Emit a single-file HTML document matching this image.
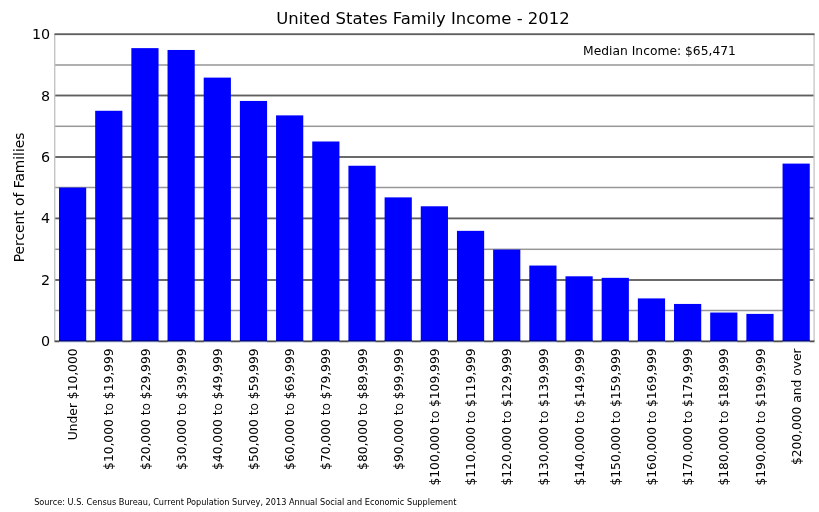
<!DOCTYPE html><html><head><meta charset="utf-8"><style>html,body{margin:0;padding:0;background:#fff;}svg{display:block;will-change:transform;}text{font-family:"DejaVu Sans","Liberation Sans",sans-serif;fill:#000;}</style></head><body>
<svg width="819" height="512" viewBox="0 0 819 512">
<rect width="819" height="512" fill="#fff"/>
<rect x="54.5" y="309.750" width="759.75" height="1.5" fill="#979797"/>
<rect x="54.5" y="279.075" width="759.75" height="1.85" fill="#5f5f5f"/>
<rect x="54.5" y="248.550" width="759.75" height="1.5" fill="#979797"/>
<rect x="54.5" y="217.475" width="759.75" height="1.85" fill="#5f5f5f"/>
<rect x="54.5" y="186.750" width="759.75" height="1.5" fill="#979797"/>
<rect x="54.5" y="156.075" width="759.75" height="1.85" fill="#5f5f5f"/>
<rect x="54.5" y="125.550" width="759.75" height="1.5" fill="#979797"/>
<rect x="54.5" y="94.575" width="759.75" height="1.85" fill="#5f5f5f"/>
<rect x="54.5" y="64.250" width="759.75" height="1.5" fill="#979797"/>
<rect x="54.0" y="34.0" width="1.4" height="307.10" fill="#c4c4c4"/>
<rect x="813.4" y="34.0" width="1.4" height="307.10" fill="#cacaca"/>
<rect x="58.99" y="187.55" width="27.2" height="153.70" fill="#00f"/>
<rect x="95.17" y="110.78" width="27.2" height="230.47" fill="#00f"/>
<rect x="131.35" y="48.13" width="27.2" height="293.12" fill="#00f"/>
<rect x="167.53" y="49.97" width="27.2" height="291.28" fill="#00f"/>
<rect x="203.70" y="77.61" width="27.2" height="263.64" fill="#00f"/>
<rect x="239.88" y="100.95" width="27.2" height="240.30" fill="#00f"/>
<rect x="276.06" y="115.38" width="27.2" height="225.87" fill="#00f"/>
<rect x="312.24" y="141.49" width="27.2" height="199.76" fill="#00f"/>
<rect x="348.42" y="165.75" width="27.2" height="175.50" fill="#00f"/>
<rect x="384.60" y="197.38" width="27.2" height="143.87" fill="#00f"/>
<rect x="420.77" y="206.28" width="27.2" height="134.97" fill="#00f"/>
<rect x="456.95" y="230.85" width="27.2" height="110.40" fill="#00f"/>
<rect x="493.13" y="249.58" width="27.2" height="91.67" fill="#00f"/>
<rect x="529.31" y="265.55" width="27.2" height="75.70" fill="#00f"/>
<rect x="565.49" y="276.30" width="27.2" height="64.95" fill="#00f"/>
<rect x="601.67" y="277.84" width="27.2" height="63.41" fill="#00f"/>
<rect x="637.85" y="298.41" width="27.2" height="42.84" fill="#00f"/>
<rect x="674.02" y="303.94" width="27.2" height="37.31" fill="#00f"/>
<rect x="710.20" y="312.54" width="27.2" height="28.71" fill="#00f"/>
<rect x="746.38" y="313.89" width="27.2" height="27.36" fill="#00f"/>
<rect x="782.56" y="163.60" width="27.2" height="177.65" fill="#00f"/>
<rect x="54.5" y="33.275" width="760.05" height="1.85" fill="#5f5f5f"/>
<rect x="54.5" y="340.425" width="760.05" height="1.85" fill="#505050"/>
<rect x="58.99" y="340" width="27.2" height="1" fill="#00009a"/>
<rect x="58.99" y="341" width="27.2" height="1" fill="#6070a8"/>
<rect x="58.99" y="342" width="27.2" height="1" fill="#e4e8f2"/>
<rect x="95.17" y="340" width="27.2" height="1" fill="#00009a"/>
<rect x="95.17" y="341" width="27.2" height="1" fill="#6070a8"/>
<rect x="95.17" y="342" width="27.2" height="1" fill="#e4e8f2"/>
<rect x="131.35" y="340" width="27.2" height="1" fill="#00009a"/>
<rect x="131.35" y="341" width="27.2" height="1" fill="#6070a8"/>
<rect x="131.35" y="342" width="27.2" height="1" fill="#e4e8f2"/>
<rect x="167.53" y="340" width="27.2" height="1" fill="#00009a"/>
<rect x="167.53" y="341" width="27.2" height="1" fill="#6070a8"/>
<rect x="167.53" y="342" width="27.2" height="1" fill="#e4e8f2"/>
<rect x="203.70" y="340" width="27.2" height="1" fill="#00009a"/>
<rect x="203.70" y="341" width="27.2" height="1" fill="#6070a8"/>
<rect x="203.70" y="342" width="27.2" height="1" fill="#e4e8f2"/>
<rect x="239.88" y="340" width="27.2" height="1" fill="#00009a"/>
<rect x="239.88" y="341" width="27.2" height="1" fill="#6070a8"/>
<rect x="239.88" y="342" width="27.2" height="1" fill="#e4e8f2"/>
<rect x="276.06" y="340" width="27.2" height="1" fill="#00009a"/>
<rect x="276.06" y="341" width="27.2" height="1" fill="#6070a8"/>
<rect x="276.06" y="342" width="27.2" height="1" fill="#e4e8f2"/>
<rect x="312.24" y="340" width="27.2" height="1" fill="#00009a"/>
<rect x="312.24" y="341" width="27.2" height="1" fill="#6070a8"/>
<rect x="312.24" y="342" width="27.2" height="1" fill="#e4e8f2"/>
<rect x="348.42" y="340" width="27.2" height="1" fill="#00009a"/>
<rect x="348.42" y="341" width="27.2" height="1" fill="#6070a8"/>
<rect x="348.42" y="342" width="27.2" height="1" fill="#e4e8f2"/>
<rect x="384.60" y="340" width="27.2" height="1" fill="#00009a"/>
<rect x="384.60" y="341" width="27.2" height="1" fill="#6070a8"/>
<rect x="384.60" y="342" width="27.2" height="1" fill="#e4e8f2"/>
<rect x="420.77" y="340" width="27.2" height="1" fill="#00009a"/>
<rect x="420.77" y="341" width="27.2" height="1" fill="#6070a8"/>
<rect x="420.77" y="342" width="27.2" height="1" fill="#e4e8f2"/>
<rect x="456.95" y="340" width="27.2" height="1" fill="#00009a"/>
<rect x="456.95" y="341" width="27.2" height="1" fill="#6070a8"/>
<rect x="456.95" y="342" width="27.2" height="1" fill="#e4e8f2"/>
<rect x="493.13" y="340" width="27.2" height="1" fill="#00009a"/>
<rect x="493.13" y="341" width="27.2" height="1" fill="#6070a8"/>
<rect x="493.13" y="342" width="27.2" height="1" fill="#e4e8f2"/>
<rect x="529.31" y="340" width="27.2" height="1" fill="#00009a"/>
<rect x="529.31" y="341" width="27.2" height="1" fill="#6070a8"/>
<rect x="529.31" y="342" width="27.2" height="1" fill="#e4e8f2"/>
<rect x="565.49" y="340" width="27.2" height="1" fill="#00009a"/>
<rect x="565.49" y="341" width="27.2" height="1" fill="#6070a8"/>
<rect x="565.49" y="342" width="27.2" height="1" fill="#e4e8f2"/>
<rect x="601.67" y="340" width="27.2" height="1" fill="#00009a"/>
<rect x="601.67" y="341" width="27.2" height="1" fill="#6070a8"/>
<rect x="601.67" y="342" width="27.2" height="1" fill="#e4e8f2"/>
<rect x="637.85" y="340" width="27.2" height="1" fill="#00009a"/>
<rect x="637.85" y="341" width="27.2" height="1" fill="#6070a8"/>
<rect x="637.85" y="342" width="27.2" height="1" fill="#e4e8f2"/>
<rect x="674.02" y="340" width="27.2" height="1" fill="#00009a"/>
<rect x="674.02" y="341" width="27.2" height="1" fill="#6070a8"/>
<rect x="674.02" y="342" width="27.2" height="1" fill="#e4e8f2"/>
<rect x="710.20" y="340" width="27.2" height="1" fill="#00009a"/>
<rect x="710.20" y="341" width="27.2" height="1" fill="#6070a8"/>
<rect x="710.20" y="342" width="27.2" height="1" fill="#e4e8f2"/>
<rect x="746.38" y="340" width="27.2" height="1" fill="#00009a"/>
<rect x="746.38" y="341" width="27.2" height="1" fill="#6070a8"/>
<rect x="746.38" y="342" width="27.2" height="1" fill="#e4e8f2"/>
<rect x="782.56" y="340" width="27.2" height="1" fill="#00009a"/>
<rect x="782.56" y="341" width="27.2" height="1" fill="#6070a8"/>
<rect x="782.56" y="342" width="27.2" height="1" fill="#e4e8f2"/>
<text x="50.2" y="346.20" font-size="14.3" text-anchor="end">0</text>
<text x="50.2" y="284.78" font-size="14.3" text-anchor="end">2</text>
<text x="50.2" y="223.36" font-size="14.3" text-anchor="end">4</text>
<text x="50.2" y="161.94" font-size="14.3" text-anchor="end">6</text>
<text x="50.2" y="100.52" font-size="14.3" text-anchor="end">8</text>
<text x="50.2" y="39.10" font-size="14.3" text-anchor="end">10</text>
<text transform="translate(77.19,348.5) rotate(-90)" font-size="12.25" text-anchor="end">Under $10,000</text>
<text transform="translate(113.37,348.5) rotate(-90)" font-size="12.25" text-anchor="end">$10,000 to $19,999</text>
<text transform="translate(149.55,348.5) rotate(-90)" font-size="12.25" text-anchor="end">$20,000 to $29,999</text>
<text transform="translate(185.72,348.5) rotate(-90)" font-size="12.25" text-anchor="end">$30,000 to $39,999</text>
<text transform="translate(221.90,348.5) rotate(-90)" font-size="12.25" text-anchor="end">$40,000 to $49,999</text>
<text transform="translate(258.08,348.5) rotate(-90)" font-size="12.25" text-anchor="end">$50,000 to $59,999</text>
<text transform="translate(294.26,348.5) rotate(-90)" font-size="12.25" text-anchor="end">$60,000 to $69,999</text>
<text transform="translate(330.44,348.5) rotate(-90)" font-size="12.25" text-anchor="end">$70,000 to $79,999</text>
<text transform="translate(366.62,348.5) rotate(-90)" font-size="12.25" text-anchor="end">$80,000 to $89,999</text>
<text transform="translate(402.80,348.5) rotate(-90)" font-size="12.25" text-anchor="end">$90,000 to $99,999</text>
<text transform="translate(438.98,348.5) rotate(-90)" font-size="12.25" text-anchor="end">$100,000 to $109,999</text>
<text transform="translate(475.15,348.5) rotate(-90)" font-size="12.25" text-anchor="end">$110,000 to $119,999</text>
<text transform="translate(511.33,348.5) rotate(-90)" font-size="12.25" text-anchor="end">$120,000 to $129,999</text>
<text transform="translate(547.51,348.5) rotate(-90)" font-size="12.25" text-anchor="end">$130,000 to $139,999</text>
<text transform="translate(583.69,348.5) rotate(-90)" font-size="12.25" text-anchor="end">$140,000 to $149,999</text>
<text transform="translate(619.87,348.5) rotate(-90)" font-size="12.25" text-anchor="end">$150,000 to $159,999</text>
<text transform="translate(656.05,348.5) rotate(-90)" font-size="12.25" text-anchor="end">$160,000 to $169,999</text>
<text transform="translate(692.23,348.5) rotate(-90)" font-size="12.25" text-anchor="end">$170,000 to $179,999</text>
<text transform="translate(728.40,348.5) rotate(-90)" font-size="12.25" text-anchor="end">$180,000 to $189,999</text>
<text transform="translate(764.58,348.5) rotate(-90)" font-size="12.25" text-anchor="end">$190,000 to $199,999</text>
<text transform="translate(800.76,348.5) rotate(-90)" font-size="12.25" text-anchor="end">$200,000 and over</text>
<text transform="translate(24.2,197.4) rotate(-90)" font-size="13.8" text-anchor="middle">Percent of Families</text>
<text x="423.0" y="23.95" font-size="16.45" text-anchor="middle">United States Family Income - 2012</text>
<text x="583.1" y="55.1" font-size="12.3">Median Income: $65,471</text>
<text x="34.2" y="505.0" font-size="8.19">Source: U.S. Census Bureau, Current Population Survey, 2013 Annual Social and Economic Supplement</text>
</svg></body></html>
